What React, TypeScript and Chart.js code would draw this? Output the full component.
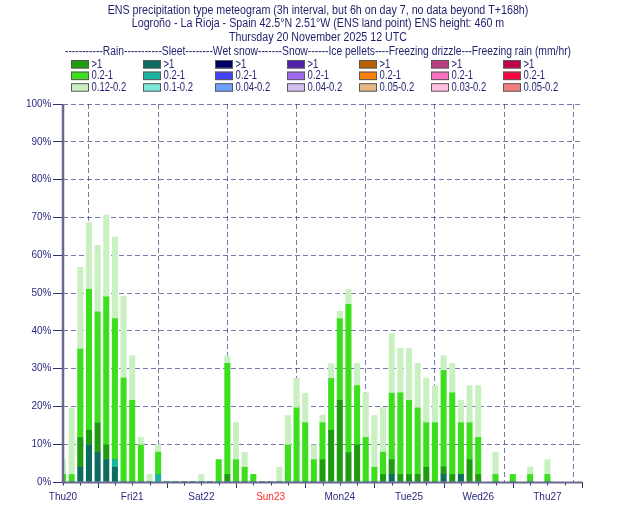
import React, { useEffect, useRef } from 'react';
import { Chart, registerables } from 'chart.js';

Chart.register(...registerables);

// ---------- DATA ----------
// Valid times, hours after Thursday 20 November 2025 12 UTC
const HOURS = [
  0, 3, 6, 9, 12, 15, 18, 21,
  24, 27, 30, 33, 36, 39, 42, 45,
  48, 51, 54, 57, 60, 63, 66, 69,
  72, 75, 78, 81, 84, 87, 90, 93,
  96, 99, 102, 105, 108, 111, 114, 117,
  120, 123, 126, 129, 132, 135, 138, 141,
  144, 150, 156, 162, 168,
];

// Probabilities (% of members) per category, one value per valid time
const SLEET_GT1 = [
  0, 0, 3.9, 9.8, 7.8, 5.9, 3.9, 0,
  0, 0, 0, 0, 0, 0, 0, 0,
  0, 0, 0, 0, 0, 0, 0, 0,
  0, 0, 0, 0, 0, 0, 0, 0,
  0, 0, 0, 0, 0, 0, 2, 0,
  0, 0, 0, 0, 2, 0, 2, 0,
  0, 0, 0, 0, 0,
];
const SLEET_MID = [
  0, 0, 0, 0, 0, 0, 2, 0,
  0, 0, 0, 2, 0, 0, 0, 0,
  0, 0, 0, 0, 0, 0, 0, 0,
  0, 0, 0, 0, 0, 0, 0, 0,
  0, 0, 0, 0, 0, 0, 0, 0,
  0, 0, 0, 0, 0, 0, 0, 0,
  0, 0, 0, 0, 0,
];
const RAIN_GT1 = [
  0, 0, 7.8, 3.9, 7.8, 3.9, 0, 0,
  0, 0, 0, 0, 0, 0, 0, 0,
  0, 0, 0, 2, 0, 0, 0, 0,
  0, 0, 0, 0, 0, 0, 5.9, 13.7,
  21.6, 7.8, 9.8, 0, 0, 2, 3.9, 2,
  2, 2, 3.9, 0, 2, 2, 0, 5.9,
  2, 0, 0, 0, 0,
];
const RAIN_MID = [
  2, 2, 23.5, 37.3, 29.4, 39.2, 37.3, 27.5,
  21.6, 9.8, 0, 5.9, 0, 0, 0, 0,
  0, 0, 5.9, 29.4, 5.9, 3.9, 2, 0,
  0, 0, 9.8, 19.6, 15.7, 5.9, 9.8, 13.7,
  21.6, 39.2, 15.7, 11.8, 3.9, 5.9, 17.6, 21.6,
  19.6, 17.6, 11.8, 15.7, 25.5, 21.6, 13.7, 9.8,
  9.8, 2, 2, 2, 2,
];
const RAIN_LOW = [
  3.9, 17.6, 21.6, 17.6, 17.6, 21.6, 21.6, 21.6,
  11.8, 2, 2, 2, 0, 0, 0, 0,
  2, 0, 0, 2, 9.8, 3.9, 0, 0,
  0, 3.9, 7.8, 7.8, 7.8, 3.9, 2, 3.9,
  2, 3.9, 5.9, 11.8, 13.7, 11.8, 15.7, 11.8,
  13.7, 11.8, 11.8, 9.8, 3.9, 7.8, 5.9, 9.8,
  13.7, 5.9, 0, 2, 3.9,
];

const DAY_LABELS = ['Thu20', 'Fri21', 'Sat22', 'Sun23', 'Mon24', 'Tue25', 'Wed26', 'Thu27'];
const SUNDAY_LABELS = ['Sun23'];
const Y_TICKS_SUFFIX = '%';

const TITLE_LINES = [
  'ENS precipitation type meteogram (3h interval, but 6h on day 7, no data beyond T+168h)',
  'Logroño - La Rioja - Spain 42.5°N 2.51°W (ENS land point) ENS height: 460 m',
  'Thursday 20 November 2025 12 UTC',
];
const LEGEND_HEADER =
  '-----------Rain-----------Sleet--------Wet snow-------Snow------Ice pellets----Freezing drizzle---Freezing rain (mm/hr)';

const TYPE_NAMES = ['Rain', 'Sleet', 'Wet snow', 'Snow', 'Ice pellets', 'Freezing drizzle', 'Freezing rain'];
const CLASS_LABELS = [
  ['>1', '0.2-1', '0.12-0.2'],
  ['>1', '0.2-1', '0.1-0.2'],
  ['>1', '0.2-1', '0.04-0.2'],
  ['>1', '0.2-1', '0.04-0.2'],
  ['>1', '0.2-1', '0.05-0.2'],
  ['>1', '0.2-1', '0.03-0.2'],
  ['>1', '0.2-1', '0.05-0.2'],
];
const CLASS_COLORS = [
  ['#1e9c10', '#3cdf1c', '#c8f0c0'],
  ['#0c6c60', '#1ab4a0', '#7ee8d8'],
  ['#000064', '#4040ff', '#70a0ff'],
  ['#5020a8', '#a068ee', '#d0c0f0'],
  ['#b86000', '#ff8000', '#e8b888'],
  ['#b84080', '#ff70c0', '#ffc0e0'],
  ['#c0004a', '#ff0040', '#f08080'],
];

// series values per [type][class]; types without data have empty series
const SERIES: (number[] | null)[][] = [
  [RAIN_GT1, RAIN_MID, RAIN_LOW],
  [SLEET_GT1, SLEET_MID, null],
  [null, null, null],
  [null, null, null],
  [null, null, null],
  [null, null, null],
  [null, null, null],
];
// stacking order from the bottom: sleet, then rain, then the others
const STACK_TYPE_ORDER = [1, 0, 2, 3, 4, 5, 6];

// ---------- STYLE ----------
const TEXT_FONT = '12px "Liberation Sans", Arial, sans-serif';
const TITLE_SQUEEZE = 0.89;
const HEADER_SQUEEZE = 0.86;
const LABEL_SQUEEZE = 0.7875;
const NAVY = '#1f1f6b';
const GRID = 'rgba(30,30,120,0.6)';
const AXIS = '#6a6a90';

function squeezeText(ctx: CanvasRenderingContext2D, text: string, x: number, y: number, align: CanvasTextAlign, sx: number) {
  ctx.save();
  ctx.translate(x, y);
  ctx.scale(sx, 1);
  ctx.textAlign = align;
  ctx.fillText(text, 0, 0);
  ctx.restore();
}

const decorPlugin = {
  id: 'decor',
  beforeDraw(chart: any) {
    const ctx: CanvasRenderingContext2D = chart.ctx;
    ctx.save();
    ctx.fillStyle = '#ffffff';
    ctx.fillRect(0, 0, chart.width, chart.height);
    ctx.font = TEXT_FONT;
    ctx.textBaseline = 'middle';
    ctx.fillStyle = NAVY;
    const cx = chart.width / 2 + 3;
    const titleY = [10.5, 24, 38];
    TITLE_LINES.forEach((t, i) => squeezeText(ctx, t, cx, titleY[i], 'center', TITLE_SQUEEZE));
    squeezeText(ctx, LEGEND_HEADER, cx, 52, 'center', HEADER_SQUEEZE);
    // legend grid
    chart.data.datasets.forEach((ds: any) => {
      const x = 71 + 72 * ds.legendCol;
      const y = 60 + 11.6 * ds.legendRow;
      ctx.fillStyle = ds.backgroundColor;
      ctx.fillRect(x, y, 18, 8.5);
      ctx.strokeStyle = '#5a5a5a';
      ctx.lineWidth = 1;
      ctx.strokeRect(x + 0.5, y + 0.5, 17, 7.5);
      ctx.fillStyle = NAVY;
      squeezeText(ctx, ds.label, x + 20.5, y + 4.5, 'left', LABEL_SQUEEZE);
    });
    ctx.restore();
  },
  afterDraw(chart: any) {
    const ctx: CanvasRenderingContext2D = chart.ctx;
    const xs = chart.scales.x;
    const area = chart.chartArea;
    ctx.save();
    // tick marks on time axis (every 6 h, longer at midnight)
    ctx.strokeStyle = '#303070';
    ctx.lineWidth = 1;
    for (let h = 0; h <= xs.max; h += 6) {
      const px = Math.round(xs.getPixelForValue(h)) + 0.5;
      const len = h % 24 === 12 ? 6 : 3.5;
      ctx.beginPath();
      ctx.moveTo(px, area.bottom);
      ctx.lineTo(px, area.bottom + len);
      ctx.stroke();
    }
    // axis lines
    ctx.strokeStyle = AXIS;
    ctx.lineWidth = 2;
    ctx.beginPath();
    ctx.moveTo(area.left - 1, area.bottom + 0.5);
    ctx.lineTo(area.right, area.bottom + 0.5);
    ctx.stroke();
    ctx.lineWidth = 2.5;
    ctx.beginPath();
    ctx.moveTo(area.left, area.top);
    ctx.lineTo(area.left, area.bottom + 1.5);
    ctx.stroke();
    ctx.restore();
  },
};

function buildDatasets() {
  const out: any[] = [];
  STACK_TYPE_ORDER.forEach((t) => {
    for (let c = 0; c < 3; c++) {
      const vals = SERIES[t][c];
      out.push({
        label: CLASS_LABELS[t][c],
        legendCol: t,
        legendRow: c,
        typeName: TYPE_NAMES[t],
        data: vals ? HOURS.map((h, i) => ({ x: h, y: vals[i] })) : [],
        backgroundColor: CLASS_COLORS[t][c],
        borderWidth: 0,
        barThickness: 5.4,
        clip: 0,
      });
    }
  });
  return out;
}

export default function App() {
  const canvasRef = useRef<HTMLCanvasElement>(null);
  useEffect(() => {
    if (!canvasRef.current) return;
    const tickFont = { family: '"Liberation Sans Narrow", "Liberation Sans", sans-serif', size: 10 };
    const chart = new Chart(canvasRef.current, {
      type: 'bar',
      data: { datasets: buildDatasets() },
      plugins: [decorPlugin],
      options: {
        responsive: false,
        animation: false,
        devicePixelRatio: 1,
        layout: { padding: { top: 104, right: 48, left: 0, bottom: 0 } },
        plugins: { legend: { display: false }, title: { display: false }, tooltip: { enabled: false } },
        scales: {
          x: {
            type: 'linear',
            min: 0,
            max: 180,
            stacked: true,
            offset: false,
            afterFit: (s: any) => { s.height = 43; },
            ticks: {
              stepSize: 6,
              autoSkip: false,
              maxRotation: 0,
              minRotation: 0,
              padding: 9,
              font: tickFont,
              color: (c: any) => {
                const lab = c.tick && c.tick.value % 24 === 0 ? DAY_LABELS[c.tick.value / 24] : '';
                return SUNDAY_LABELS.includes(lab) ? '#ff2a2a' : '#2a2a80';
              },
              callback: (v: any) => (Number(v) % 24 === 0 ? DAY_LABELS[Number(v) / 24] || '' : ''),
            },
            grid: {
              drawTicks: false,
              lineWidth: 1,
              color: (c: any) => (c.tick && c.tick.value % 24 === 12 ? GRID : 'rgba(0,0,0,0)'),
            },
            border: { display: false, dash: [5, 3] },
          },
          y: {
            min: 0,
            max: 100,
            stacked: true,
            z: 1,
            afterFit: (s: any) => { s.width = 63; },
            ticks: {
              stepSize: 10,
              padding: 1.5,
              font: tickFont,
              color: '#2a2a80',
              callback: (v: any) => v + Y_TICKS_SUFFIX,
            },
            grid: {
              color: GRID,
              lineWidth: 1,
              tickLength: 10,
              tickColor: '#303070',
              tickWidth: 1,
              tickBorderDash: [],
            },
            border: { display: false, dash: [5, 3] },
          },
        },
      } as any,
    });
    return () => chart.destroy();
  }, []);
  return (
    <div style={{ position: 'fixed', left: 0, top: 0, width: 630, height: 525, background: '#fff' }}>
      <canvas ref={canvasRef} width={630} height={525} style={{ display: 'block' }} />
    </div>
  );
}
